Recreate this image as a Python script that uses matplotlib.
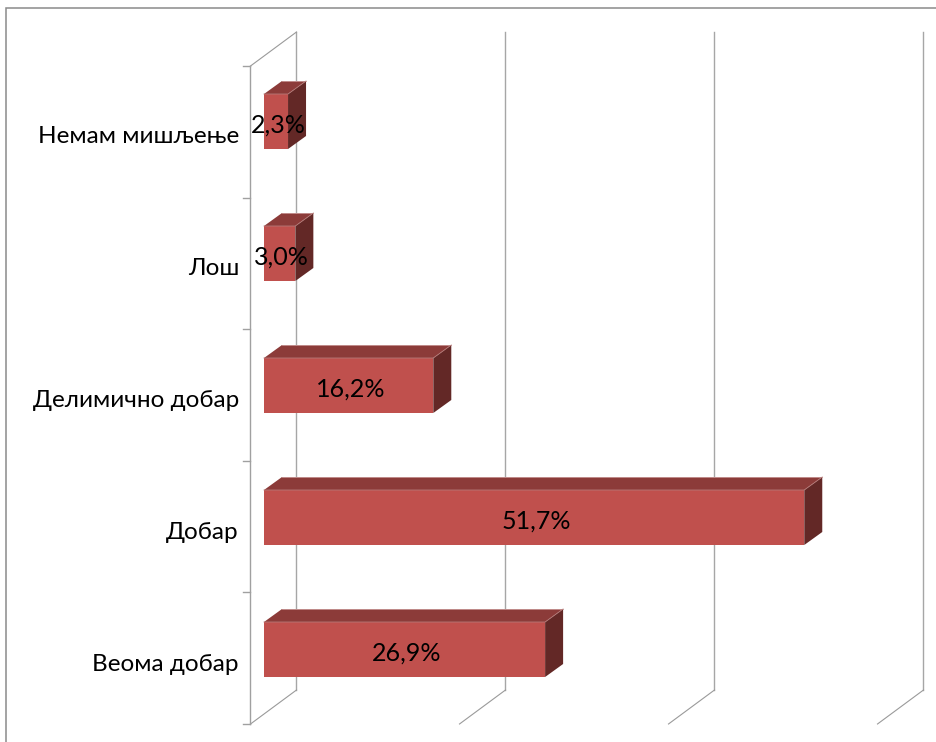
import matplotlib
matplotlib.use('Agg')
import matplotlib.pyplot as plt
from matplotlib.patches import Polygon

plt.rcParams['font.family'] = ['Lato', 'Open Sans', 'DejaVu Sans']

# Data (bottom to top)
categories = ['Веома добар', 'Добар', 'Делимично добар', 'Лош', 'Немам мишљење']
values = [26.9, 51.7, 16.2, 3.0, 2.3]
value_labels = ['26,9%', '51,7%', '16,2%', '3,0%', '2,3%']
grid_values = [0, 20, 40, 60]

# Figure size [px]
W = 937
H = 742

# Scales
px_per_pct = 10.45
px_per_cat = 132.0
x0_px = 264.0  # where 0 % of the bars sits
y0_px = 649.5  # centre of the lowest bar

dx = 18 / px_per_pct  # bar depth
dy = 13 / px_per_cat
wall_front = -13.5 / px_per_pct
wall_back = 32.5 / px_per_pct
wall_top = 4 + (121.5 - 66) / px_per_cat
wall_bottom = -(724 - y0_px) / px_per_cat
wall_rise = 34 / px_per_cat
bar_h = 55 / px_per_cat

fig = plt.figure(figsize=(W / 100, H / 100), dpi=100)
ax = fig.add_axes([0, 0, 1, 1])
ax.set_xlim(-x0_px / px_per_pct, (W - x0_px) / px_per_pct)
ax.set_ylim(-(H - y0_px) / px_per_cat, y0_px / px_per_cat)
ax.axis('off')

# Chart frame
frame_x = ax.get_xlim()[0] + 6 / px_per_pct
frame_y = ax.get_ylim()[1] - 8 / px_per_cat
ax.plot([frame_x, frame_x, ax.get_xlim()[1]], [ax.get_ylim()[0], frame_y, frame_y],
        color='#8a8a8a', lw=1.1, solid_joinstyle='miter', clip_on=False)

# Back wall grid lines and floor
for g in grid_values:
    back = g + wall_back
    front = g + wall_front
    ax.plot([back, back], [wall_bottom + wall_rise, wall_top + wall_rise], color='#a6a6a6', lw=1.0)
    ax.plot([front, back], [wall_bottom, wall_bottom + wall_rise], color='#9a9a9a', lw=0.8)

# Side wall
ax.plot([wall_front, wall_back], [wall_top, wall_top + wall_rise], color='#9a9a9a', lw=0.8)
ax.plot([wall_front, wall_front], [wall_bottom, wall_top], color='#a0a0a0', lw=1.0)
for i in range(len(categories) + 1):
    y = wall_bottom + i * (wall_top - wall_bottom) / len(categories)
    ax.plot([wall_front - 7 / px_per_pct, wall_front], [y, y], color='#a0a0a0', lw=1.0)

# Bars
for i, v in enumerate(values):
    lo = i - bar_h / 2
    hi = i + bar_h / 2
    ax.add_patch(Polygon([(0, hi), (v, hi), (v + dx, hi + dy), (dx, hi + dy)],
                         facecolor='#8c3b39', edgecolor='none', zorder=3))
    ax.add_patch(Polygon([(v, lo), (v + dx, lo + dy), (v + dx, hi + dy), (v, hi)],
                         facecolor='#632826', edgecolor='none', zorder=3))
    # thin light edges along the top of the bar
    ax.plot([dx, v + dx], [hi + dy, hi + dy], color='#c99a99', lw=0.6, zorder=4)
    ax.plot([0, v, v + dx], [hi, hi, hi + dy], color='#b57a78', lw=0.6, zorder=5)
    ax.barh(i, v, height=bar_h, color='#c0504d', zorder=4)
    ax.text(v / 2 + 2 / px_per_pct, i - 3.5 / px_per_cat, value_labels[i], fontsize=18,
            ha='center', va='center', color='black', zorder=6)
    ax.text(-25 / px_per_pct, i - 15 / px_per_cat, categories[i], fontsize=17.5,
            ha='right', va='center', color='black', zorder=6)

fig.savefig('out.png', dpi=100, facecolor='white')
